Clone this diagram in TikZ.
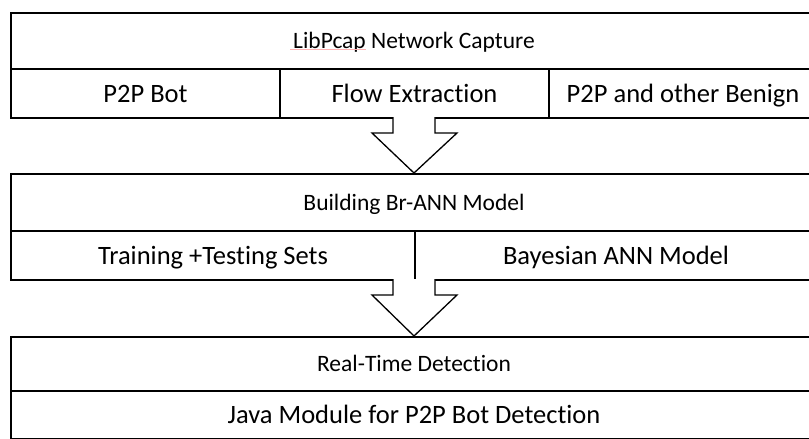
\documentclass[tikz,border=0pt]{standalone}
\usepackage{fontspec}
\setmainfont[Ligatures=CommonOff]{Carlito}
\begin{document}
\begin{tikzpicture}[x=1pt,y=-1pt,
  cell/.style={draw=black,line width=2pt,rectangle,inner sep=0pt,anchor=north west,fill=white,text depth=0pt},
  headtxt/.style={font=\fontsize{23.5}{28}\selectfont,text height=15.1pt},
  bigtxt/.style={font=\fontsize{26.5}{31}\selectfont,text height=17.1pt},
  blockarrow/.style={draw=black,line width=1.3pt,fill=white,line join=miter}]
\useasboundingbox (0,0) rectangle (809,439);
% Box 1
\node[cell,headtxt,minimum width=806pt,minimum height=56pt] (cap) at (10,12) {LibPcap Network Capture};
\node[cell,bigtxt,minimum width=269pt,minimum height=49pt] (bot) at (10,68) {P2P Bot};
\node[cell,bigtxt,minimum width=269pt,minimum height=49pt] (flow) at (279,68) {Flow Extraction};
\node[cell,bigtxt,minimum width=268pt,minimum height=49pt] (benign) at (548,68) {P2P and other Benign};
% Box 2
\node[cell,headtxt,minimum width=806pt,minimum height=57pt] (build) at (10,173) {Building Br-ANN Model};
\node[cell,bigtxt,minimum width=404pt,minimum height=49pt] (train) at (10,230) {Training +Testing Sets};
\node[cell,bigtxt,minimum width=402pt,minimum height=49pt] (bayes) at (414,230) {Bayesian ANN Model};
% Box 3
\node[cell,headtxt,minimum width=806pt,minimum height=54pt] (rt) at (10,336) {Real-Time Detection};
\node[cell,bigtxt,minimum width=806pt,minimum height=48pt] (java) at (10,390) {Java Module for P2P Bot Detection};
% spell-check underline
\draw[red!30,line width=0.6pt] (290,49.5) -- (366,49.5);
% Arrows
\coordinate (a1) at (414,117);
\draw[blockarrow] (393,117) -- (393,133) -- (372,133) -- (build.north -| a1) -- (457,133) -- (435,133) -- (435,117);
\coordinate (a2) at (414,279);
\draw[blockarrow] (393,279) -- (393,295) -- (372,295) -- (rt.north -| a2) -- (457,295) -- (435,295) -- (435,279);
\end{tikzpicture}
\end{document}
